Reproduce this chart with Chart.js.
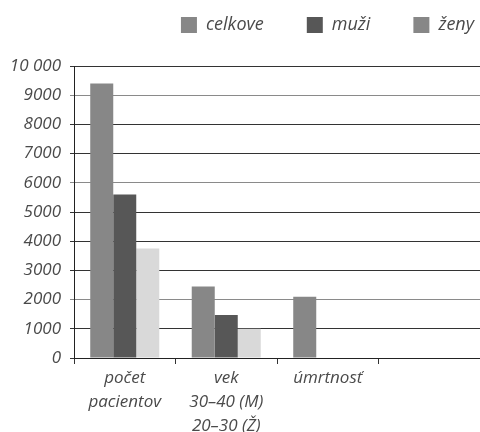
<!DOCTYPE html>
<html>
<head>
<meta charset="utf-8">
<script src="https://cdn.jsdelivr.net/npm/chart.js@4/dist/chart.umd.min.js"></script>
<style>
  html, body { margin: 0; padding: 0; background: #fff; }
  #wrap { width: 480px; height: 432px; position: relative; }
</style>
</head>
<body>
<div id="wrap"><canvas id="c" width="480" height="432"></canvas></div>
<script>
// Categories (the fourth slot is left empty on purpose)
const categories = [['počet', 'pacientov'], ['vek', '30–40 (M)', '20–30 (Ž)'], 'úmrtnosť', ''];
const seriesNames = ['celkove', 'muži', 'ženy'];
const celkove = [9400, 2450, 2100, null];
const muzi = [5600, 1470, null, null];
const zeny = [3750, 1000, null, null];
const yTickLabels = { 10000: '10 000' };

const barColors = ['#878787', '#575757', '#d9d9d9'];
const swatchColors = ['#878787', '#575757', '#878787'];
const textColor = '#4a4a4a';
const fontFamily = '"Open Sans", sans-serif';

// grid lines alternate between a crisp dark line and a softer grey one
const gridColors = { 0: '#333', 1000: '#333', 2000: '#8a8a8a', 3000: '#333', 4000: '#333',
  5000: '#333', 6000: '#8a8a8a', 7000: '#333', 8000: '#333', 9000: '#8a8a8a', 10000: '#333' };

const legendPadding = 43;

// extra space below the legend row, and no trailing gap after the last item
const legendGap = {
  id: 'legendGap',
  beforeInit(chart) {
    const legend = chart.legend;
    if (!legend) return;
    const origFit = legend.fit;
    legend.fit = function () {
      origFit.call(this);
      this.height += 22;
    };
  },
  afterLayout(chart) {
    if (chart.legend) chart.legend.right += legendPadding - 6;
  }
};

new Chart(document.getElementById('c'), {
  type: 'bar',
  data: {
    labels: categories,
    datasets: [
      { label: seriesNames[0], data: celkove, backgroundColor: barColors[0] },
      { label: seriesNames[1], data: muzi, backgroundColor: barColors[1] },
      { label: seriesNames[2], data: zeny, backgroundColor: barColors[2] }
    ]
  },
  plugins: [legendGap],
  options: {
    responsive: false,
    animation: false,
    devicePixelRatio: 1,
    layout: { padding: { top: -27, left: 0, right: 0, bottom: 0 } },
    datasets: { bar: { categoryPercentage: 0.68, barPercentage: 1.0, borderWidth: 0 } },
    plugins: {
      tooltip: { enabled: false },
      legend: {
        position: 'top',
        align: 'end',
        labels: {
          color: textColor,
          font: { family: fontFamily, size: 18, style: 'italic' },
          boxWidth: 16,
          boxHeight: 16,
          padding: legendPadding,
          generateLabels(chart) {
            return chart.data.datasets.map((ds, i) => ({
              text: ds.label,
              fillStyle: swatchColors[i],
              strokeStyle: swatchColors[i],
              lineWidth: 0,
              fontColor: textColor,
              hidden: false,
              datasetIndex: i
            }));
          }
        }
      }
    },
    scales: {
      x: {
        offset: true,
        grid: {
          offset: true,
          drawOnChartArea: false,
          drawTicks: true,
          tickLength: 6,
          color: '#333',
          lineWidth: 1
        },
        border: { display: true, color: '#222', width: 1 },
        ticks: {
          color: textColor,
          font: { family: fontFamily, size: 17, style: 'italic', lineHeight: 1.42 },
          maxRotation: 0,
          autoSkip: false,
          padding: 2
        },
        afterFit(scale) { scale.height = 74; }
      },
      y: {
        min: 0,
        max: 10000,
        grid: {
          drawTicks: true,
          tickLength: 4,
          color: ctx => gridColors[ctx.tick ? ctx.tick.value : 0] || '#333',
          lineWidth: 1
        },
        border: { display: true, color: '#222', width: 1 },
        ticks: {
          stepSize: 1000,
          color: textColor,
          font: { family: fontFamily, size: 17, style: 'italic' },
          padding: 9,
          callback: v => yTickLabels[v] || String(v)
        },
        afterFit(scale) { scale.width = 74; }
      }
    }
  }
});
</script>
</body>
</html>
